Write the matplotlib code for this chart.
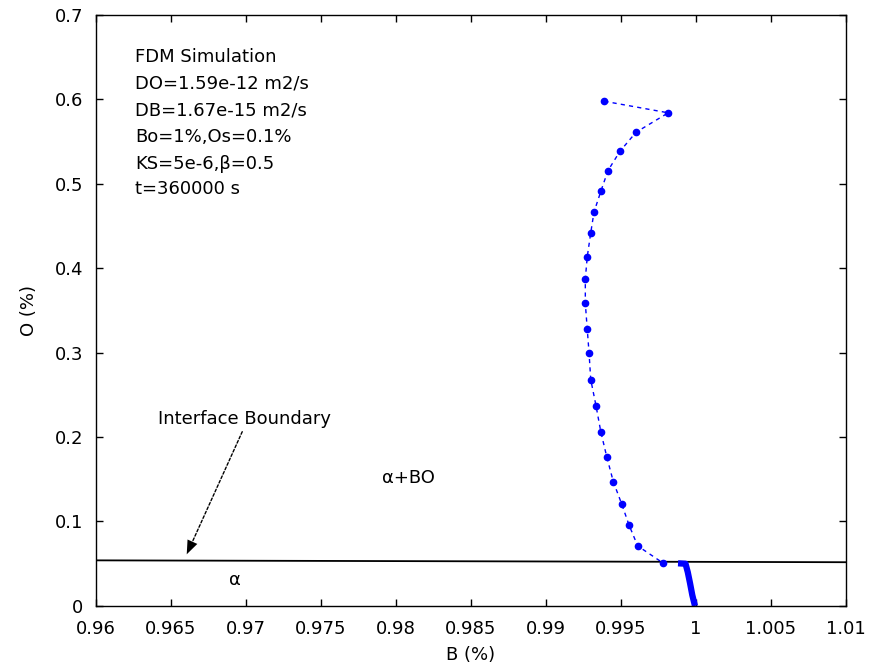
"""Recreate the FDM simulation B-O composition path figure."""

import matplotlib

matplotlib.use("Agg")
import matplotlib.pyplot as plt

# diffusion path in the alpha+BO region (dashed, dotted markers)
path_b = [0.99389, 0.99815, 0.99600, 0.99493, 0.99413, 0.99367, 0.99320,
          0.99298, 0.99275, 0.99262, 0.99262, 0.99275, 0.99287, 0.99298,
          0.99333, 0.99365, 0.99405, 0.99449, 0.99505, 0.99553, 0.99611,
          0.99782]
path_o = [0.5975, 0.5838, 0.5608, 0.5383, 0.5154, 0.4917, 0.4664, 0.4416,
          0.4135, 0.3874, 0.3582, 0.3274, 0.2994, 0.2681, 0.2373, 0.2065,
          0.1765, 0.1469, 0.1205, 0.0960, 0.0711, 0.0506]

# profile inside the alpha region (dense, drawn thick)
alpha_b = [0.99880, 0.99930, 0.99945, 0.99960, 0.99975, 0.99993]
alpha_o = [0.0505, 0.0500, 0.0400, 0.0270, 0.0130, 0.0000]

# interface boundary line
boundary_b = [0.96, 1.01]
boundary_o = [0.0540, 0.0518]

info_lines = ["FDM Simulation", "DO=1.59e-12 m2/s", "DB=1.67e-15 m2/s",
              "Bo=1%,Os=0.1%", "KS=5e-6,\u03b2=0.5", "t=360000 s"]
info_y = [0.6497, 0.6185, 0.5869, 0.5553, 0.5238, 0.4942]

x_ticks = [0.96, 0.965, 0.97, 0.975, 0.98, 0.985, 0.99, 0.995, 1.0, 1.005, 1.01]
x_labels = ["0.96", "0.965", "0.97", "0.975", "0.98", "0.985", "0.99",
            "0.995", "1", "1.005", "1.01"]
y_ticks = [0, 0.1, 0.2, 0.3, 0.4, 0.5, 0.6, 0.7]
y_labels = ["0", "0.1", "0.2", "0.3", "0.4", "0.5", "0.6", "0.7"]

# arrow from the "Interface Boundary" label to the boundary line
arrow_tail = (0.96975, 0.2063)
arrow_head = (0.96605, 0.0612)

plt.rcParams["font.family"] = ["DejaVu Sans"]
fs = 13

fig = plt.figure(figsize=(8.79, 6.67), dpi=100)
ax = fig.add_axes([0.1092, 0.0915, 0.8533, 0.8865])

ax.plot(boundary_b, boundary_o, color="black", lw=1.3)
ax.plot(path_b, path_o, "--", color="blue", lw=1.0, dashes=(3, 3),
        marker="o", markersize=4.5)
ax.plot(alpha_b, alpha_o, "-", color="blue", lw=4.5, solid_capstyle="butt")

ax.set_xlim(0.96, 1.01)
ax.set_ylim(0, 0.7)
ax.set_xticks(x_ticks)
ax.set_xticklabels(x_labels)
ax.set_yticks(y_ticks)
ax.set_yticklabels(y_labels)
ax.tick_params(direction="in", top=True, right=True, length=5, width=1,
               labelsize=fs)
ax.tick_params(axis="x", pad=10)
ax.tick_params(axis="y", pad=9)
for spine in ax.spines.values():
    spine.set_linewidth(1.0)
ax.set_xlabel("B (%)", fontsize=fs, labelpad=6)
ax.set_ylabel("O (%)", fontsize=fs, labelpad=12)

for line, y in zip(info_lines, info_y):
    ax.text(0.9626, y, line, fontsize=fs, va="center", ha="left")

ax.text(0.96993, 0.2216, "Interface Boundary", fontsize=fs,
        ha="center", va="center")
# dotted shaft
ax.annotate("", xy=arrow_head, xytext=arrow_tail,
            arrowprops=dict(arrowstyle="-", color="black", lw=1.0,
                            linestyle=(0, (2, 1.5)), shrinkA=0, shrinkB=5))
# solid head
ax.annotate("", xy=arrow_head, xytext=arrow_tail,
            arrowprops=dict(arrowstyle="-|>,head_length=0.9,head_width=0.35",
                            color="black", lw=0.01, mutation_scale=11,
                            shrinkA=120, shrinkB=0))
ax.text(0.9808, 0.1515, "\u03b1+BO", fontsize=fs, ha="center", va="center")
ax.text(0.96927, 0.0308, "\u03b1", fontsize=fs, ha="center", va="center")

fig.savefig("out.png", dpi=100)
